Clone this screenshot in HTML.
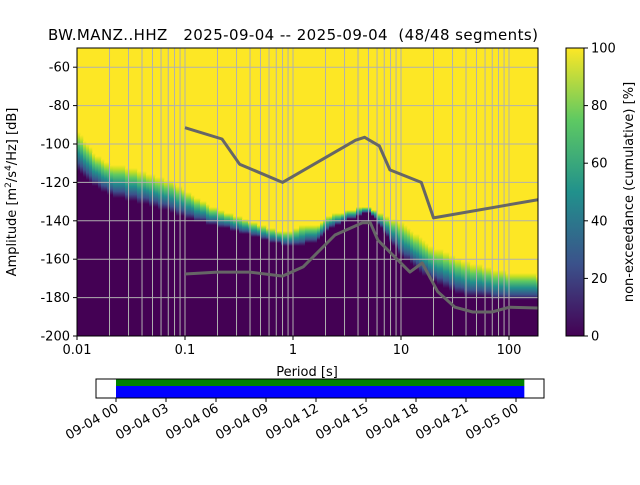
<!DOCTYPE html>
<html><head><meta charset="utf-8"><style>
body{margin:0;background:#fff;}
svg text{font-family:"DejaVu Sans","Liberation Sans",sans-serif;fill:#000;white-space:pre;}
</style></head><body>
<svg id="chart" width="640" height="480" viewBox="0 0 640 480" xmlns="http://www.w3.org/2000/svg">
<defs>
<linearGradient id="band" x1="0" y1="0" x2="0" y2="1">
<stop offset="0" stop-color="#fde725"/><stop offset="0.12" stop-color="#c8e020"/><stop offset="0.3" stop-color="#5ec962"/><stop offset="0.55" stop-color="#21918c"/><stop offset="0.8" stop-color="#3b528b"/><stop offset="1" stop-color="#440154"/>
</linearGradient>
<linearGradient id="cbar" x1="0" y1="1" x2="0" y2="0">
<stop offset="0" stop-color="#440154"/><stop offset="0.25" stop-color="#3b528b"/><stop offset="0.5" stop-color="#21918c"/><stop offset="0.75" stop-color="#5ec962"/><stop offset="1" stop-color="#fde725"/>
</linearGradient>
<clipPath id="clip"><rect x="77" y="48" width="461" height="288"/></clipPath>
</defs>
<text x="48" y="40" font-size="15" textLength="490" lengthAdjust="spacing" xml:space="preserve">BW.MANZ..HHZ   2025-09-04 -- 2025-09-04  (48/48 segments)</text>
<g id="plot" clip-path="url(#clip)"></g>
<g id="overlay"></g>
<rect x="77" y="48" width="461" height="288" fill="none" stroke="#000" stroke-width="1"/>
<text x="307" y="376" font-size="13" text-anchor="middle">Period [s]</text>
<text transform="translate(16,192) rotate(-90)" font-size="13" text-anchor="middle">Amplitude [m<tspan font-size="9" dy="-5">2</tspan><tspan dy="5">/s</tspan><tspan font-size="9" dy="-5">4</tspan><tspan dy="5">/Hz] [dB]</tspan></text>
<rect x="566" y="48" width="18" height="288" fill="url(#cbar)" stroke="#000" stroke-width="1"/>
<text transform="translate(633,192) rotate(-90)" font-size="13" text-anchor="middle">non-exceedance (cumulative) [%]</text>
<g id="timeline"></g>
</svg>
<script>
const bandPeriods=[0.01,0.0147,0.02,0.038,0.073,0.1,0.17,0.32,0.61,0.94,1.16,1.67,2.2,4.2,5.2,7.1,9.9,18.6,35,82,185];
const bandTop=[-93,-105,-110,-113.5,-119,-124,-132,-138,-144,-146,-142,-142,-137,-133,-133,-137,-140.6,-152.6,-160,-166,-168];
const bandBottom=[-114,-122,-127,-131,-135,-138.5,-142,-146,-151,-153.6,-152.6,-151.5,-144,-137,-135.4,-147,-158,-171,-178.6,-181,-181];
const nhnmPeriods=[0.1,0.22,0.32,0.8,3.8,4.6,6.3,7.9,15.4,20,185];
const nhnmDb=[-91.5,-97.4,-110.5,-120,-98,-96.5,-101,-113.5,-120,-138.5,-129];
const nlnmPeriods=[0.1,0.2,0.4,0.8,1.24,2.45,4.4,5.2,6.1,12.1,15.7,21.9,31.6,46.1,69.5,101,185];
const nlnmDb=[-167.7,-166.7,-166.7,-168.8,-164,-147.4,-141,-141,-150,-166.7,-162,-177,-185,-187.5,-187.5,-185,-185.4];
const yTicks=[-60,-80,-100,-120,-140,-160,-180,-200];
const xTickLabels=["0.01","0.1","1","10","100"];
const cbTicks=[0,20,40,60,80,100];
const timeLabels=["09-04 00","09-04 03","09-04 06","09-04 09","09-04 12","09-04 15","09-04 18","09-04 21","09-05 00"];
const segStartHour=0, segEndHour=24.5;

const NS="http://www.w3.org/2000/svg";
const X0=77,X1=538,Y0=48,Y1=336;
const xs=p=>X0+(Math.log10(p)+2)*108;
const ys=d=>336-(d+200)*1.92;
function mk(tag,attrs,parent){const e=document.createElementNS(NS,tag);for(const k in attrs)e.setAttribute(k,attrs[k]);parent.appendChild(e);return e;}
const plot=document.getElementById('plot'),ov=document.getElementById('overlay'),svg=document.getElementById('chart');
let bg=mk('rect',{x:X0,y:Y0,width:X1-X0,height:Y1-Y0,fill:'#fde725'},plot);


function interp(arr,lp){const L=bandPeriods.map(Math.log10);if(lp<=L[0])return arr[0];for(let i=0;i<L.length-1;i++){if(lp<=L[i+1]){const t=(lp-L[i])/(L[i+1]-L[i]);return arr[i]+t*(arr[i+1]-arr[i]);}}return arr[arr.length-1];}
for(let x=X0;x<X1;x+=3){
  const lp=(x+1.5-X0)/108-2;
  const t=interp(bandTop,lp),b=interp(bandBottom,lp);
  const yt=Math.round(ys(t)/3)*3,yb=Math.round(ys(b)/3)*3;
  let r=mk('rect',{x:x,y:yt,width:3.3,height:Math.max(1,yb-yt),fill:'url(#band)'},plot);
  
  
  let p=mk('rect',{x:x,y:yb,width:3.3,height:Y1-yb,fill:'#440154'},plot);
  
  
}
for(let d=-2;d<=2;d++){for(let m=1;m<=9;m++){const p=m*Math.pow(10,d);const x=xs(p);if(x<X0||x>X1)continue;
  let g=mk('line',{x1:x,x2:x,y1:Y0,y2:Y1,stroke:'#b0b0b0','stroke-width':1},plot);
  
  }}
yTicks.forEach(v=>{const y=ys(v);
  let g=mk('line',{x1:X0,x2:X1,y1:y,y2:y,stroke:'#b0b0b0','stroke-width':1},plot);
  
  
  let t=mk('line',{x1:X0-4,x2:X0,y1:y,y2:y,stroke:'#000'},ov);
  
  
  let l=mk('text',{x:X0-7,y:y+4.5,'font-size':13,'text-anchor':'end'},ov);l.textContent=v;
  
  
});
xTickLabels.forEach(s=>{const x=xs(parseFloat(s));
  let t=mk('line',{x1:x,x2:x,y1:Y1,y2:Y1+4,stroke:'#000'},ov);
  
  
  let l=mk('text',{x:x,y:Y1+18,'font-size':13,'text-anchor':'middle'},ov);l.textContent=s;
  
  
});
function curve(P,D,name){const pts=P.map((p,i)=>xs(p).toFixed(1)+','+ys(D[i]).toFixed(1)).join(' ');
  const e=mk('polyline',{points:pts,fill:'none',stroke:'#666','stroke-width':3,'stroke-linejoin':'round'},plot);
  
  }
curve(nhnmPeriods,nhnmDb,'nhnm-curve');
curve(nlnmPeriods,nlnmDb,'nlnm-curve');
cbTicks.forEach(v=>{const y=336-v*2.88;
  let t=mk('line',{x1:584,x2:588,y1:y,y2:y,stroke:'#000'},svg);
  
  
  let l=mk('text',{x:591,y:y+4.5,'font-size':13},svg);l.textContent=v;
  
  
});
const tl=document.getElementById('timeline');
const th=h=>116+h*50/3;
let tb=mk('rect',{x:96,y:379,width:448,height:19,fill:'#fff',stroke:'none'},tl);


let gseg=mk('rect',{x:th(segStartHour),y:379,width:th(segEndHour)-th(segStartHour),height:7,fill:'#008000'},tl);


let bseg=mk('rect',{x:th(segStartHour),y:386,width:th(segEndHour)-th(segStartHour),height:12,fill:'#0000ff'},tl);


let tf=mk('rect',{x:96,y:379,width:448,height:19,fill:'none',stroke:'#000'},tl);


timeLabels.forEach((s,i)=>{const x=th(i*3);
  let t=mk('line',{x1:x,x2:x,y1:398,y2:402,stroke:'#000'},tl);
  
  
  let l=mk('text',{transform:`translate(${x-1},${403}) rotate(-30)`,'font-size':13,'text-anchor':'end','dominant-baseline':'hanging'},tl);l.textContent=s;
  
  
});
</script>
</body></html>
